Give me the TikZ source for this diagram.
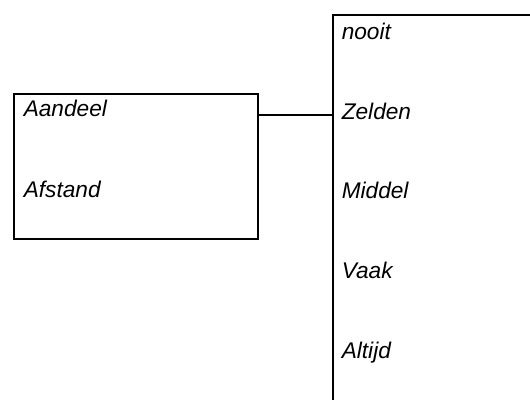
\documentclass[tikz,border=0pt]{standalone}
\usepackage{fontspec}
\setmainfont{Liberation Sans}
\begin{document}
\begin{tikzpicture}[x=0.75pt,y=-0.75pt,
  kader/.style={draw,line width=1.5pt,anchor=north west,inner sep=0pt},
  woord/.style={anchor=base west,inner sep=0pt,font=\itshape\fontsize{17}{20}\selectfont}]
\useasboundingbox (0,0) rectangle (530,399);
\clip (0,0) rectangle (530,399);
\node[kader,minimum width=182.6pt,minimum height=109.2pt] (bron) at (13.3,92.7) {};
\node[kader,minimum width=171.2pt,minimum height=319.5pt] (schaal) at (331.7,14) {};
\foreach \y/\lab in {117/Aandeel,197.5/Afstand}
  \node[woord] (\lab) at (23.5,\y) {\lab};
\foreach \y/\lab in {40/nooit,119/Zelden,198.5/Middel,278/Vaak,358/Altijd}
  \node[woord] (\lab) at (341.5,\y) {\lab};
\coordinate (koppel) at ([yshift=-16.7pt]bron.north east);
\draw[line width=1pt] (koppel) -- (koppel -| schaal.west);
\end{tikzpicture}
\end{document}
